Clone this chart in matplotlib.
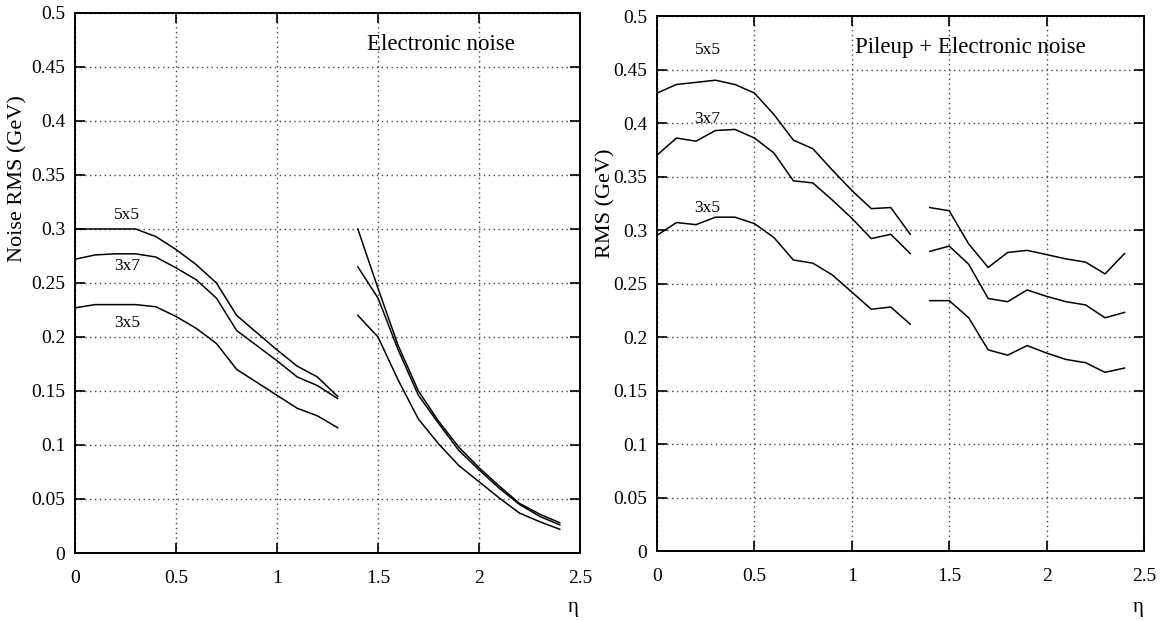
import matplotlib.pyplot as plt
from matplotlib import rcParams

rcParams['font.family'] = ['Liberation Serif', 'DejaVu Serif']

# eta bins (two separate ranges: barrel / endcap)
eta_a = [0.0, 0.1, 0.2, 0.3, 0.4, 0.5, 0.6, 0.7, 0.8, 0.9, 1.0, 1.1, 1.2, 1.3]
eta_b = [1.4, 1.5, 1.6, 1.7, 1.8, 1.9, 2.0, 2.1, 2.2, 2.3, 2.4]

# Electronic noise (left)
elec_5x5_a = [0.300, 0.300, 0.300, 0.300, 0.293, 0.281, 0.267, 0.250, 0.220, 0.204, 0.188, 0.173, 0.163, 0.145]
elec_3x7_a = [0.272, 0.276, 0.277, 0.277, 0.274, 0.264, 0.253, 0.236, 0.206, 0.192, 0.178, 0.163, 0.155, 0.143]
elec_3x5_a = [0.227, 0.230, 0.230, 0.230, 0.228, 0.219, 0.208, 0.194, 0.170, 0.158, 0.146, 0.134, 0.127, 0.116]
elec_5x5_b = [0.300, 0.245, 0.192, 0.150, 0.122, 0.098, 0.079, 0.062, 0.046, 0.036, 0.028]
elec_3x7_b = [0.265, 0.236, 0.188, 0.146, 0.120, 0.095, 0.077, 0.060, 0.045, 0.034, 0.026]
elec_3x5_b = [0.220, 0.200, 0.160, 0.124, 0.101, 0.081, 0.066, 0.051, 0.037, 0.029, 0.022]

# Pileup + electronic noise (right)
pile_5x5_a = [0.428, 0.436, 0.438, 0.440, 0.436, 0.428, 0.408, 0.384, 0.376, 0.356, 0.337, 0.320, 0.321, 0.296]
pile_3x7_a = [0.370, 0.386, 0.383, 0.393, 0.394, 0.386, 0.372, 0.346, 0.344, 0.328, 0.311, 0.292, 0.296, 0.278]
pile_3x5_a = [0.295, 0.307, 0.305, 0.312, 0.312, 0.306, 0.293, 0.272, 0.269, 0.258, 0.242, 0.226, 0.228, 0.212]
pile_5x5_b = [0.321, 0.318, 0.287, 0.265, 0.279, 0.281, 0.277, 0.273, 0.270, 0.259, 0.278]
pile_3x7_b = [0.280, 0.285, 0.268, 0.236, 0.233, 0.244, 0.238, 0.233, 0.230, 0.218, 0.223]
pile_3x5_b = [0.234, 0.234, 0.218, 0.188, 0.183, 0.192, 0.185, 0.179, 0.176, 0.167, 0.171]

xticks = [0, 0.5, 1, 1.5, 2, 2.5]
xticklabels = ['0', '0.5', '1', '1.5', '2', '2.5']
yticks = [0, 0.05, 0.1, 0.15, 0.2, 0.25, 0.3, 0.35, 0.4, 0.45, 0.5]
yticklabels = ['0', '0.05', '0.1', '0.15', '0.2', '0.25', '0.3', '0.35', '0.4', '0.45', '0.5']

fig = plt.figure(figsize=(11.6, 6.21), dpi=100)
ax1 = fig.add_axes([0.0647, 0.1095, 0.4353, 0.8696])
ax2 = fig.add_axes([0.5664, 0.1127, 0.4198, 0.8615])


def style(ax):
    ax.set_xlim(0, 2.5)
    ax.set_ylim(0, 0.5)
    ax.set_xticks(xticks)
    ax.set_xticklabels(xticklabels)
    ax.set_yticks(yticks)
    ax.set_yticklabels(yticklabels)
    ax.tick_params(direction='in', length=7, width=1.2, labelsize=14,
                   top=True, right=True)
    ax.tick_params(axis='x', pad=12)
    ax.tick_params(axis='y', pad=7)
    ax.grid(True, color='#444444', linestyle=(0, (1, 2.5)), linewidth=1.0)
    for s in ax.spines.values():
        s.set_linewidth(1.4)


for ax, series in [
    (ax1, [(elec_5x5_a, elec_5x5_b), (elec_3x7_a, elec_3x7_b), (elec_3x5_a, elec_3x5_b)]),
    (ax2, [(pile_5x5_a, pile_5x5_b), (pile_3x7_a, pile_3x7_b), (pile_3x5_a, pile_3x5_b)]),
]:
    style(ax)
    for ya, yb in series:
        ax.plot(eta_a, ya, color='black', lw=1.1)
        ax.plot(eta_b, yb, color='black', lw=1.1)

# curve labels
ax1.text(0.257, 0.3125, '5x5', fontsize=12.5, ha='center', va='center')
ax1.text(0.257, 0.266, '3x7', fontsize=12.5, ha='center', va='center')
ax1.text(0.257, 0.213, '3x5', fontsize=12.5, ha='center', va='center')
ax2.text(0.26, 0.468, '5x5', fontsize=12.5, ha='center', va='center')
ax2.text(0.26, 0.404, '3x7', fontsize=12.5, ha='center', va='center')
ax2.text(0.26, 0.321, '3x5', fontsize=12.5, ha='center', va='center')

ax1.text(1.446, 0.471, 'Electronic noise', fontsize=16.5, ha='left', va='center')
ax2.text(1.015, 0.471, 'Pileup + Electronic noise', fontsize=16.5, ha='left', va='center')

# axis titles
fig.text(0.0155, 0.712, 'Noise RMS (GeV)', rotation=90, fontsize=16, ha='center', va='center')
fig.text(0.522, 0.673, 'RMS (GeV)', rotation=90, fontsize=16, ha='center', va='center')
fig.text(0.494, 0.021, 'η', fontsize=15, ha='center', va='center')
fig.text(0.981, 0.021, 'η', fontsize=15, ha='center', va='center')

fig.savefig('out.png', dpi=100)
